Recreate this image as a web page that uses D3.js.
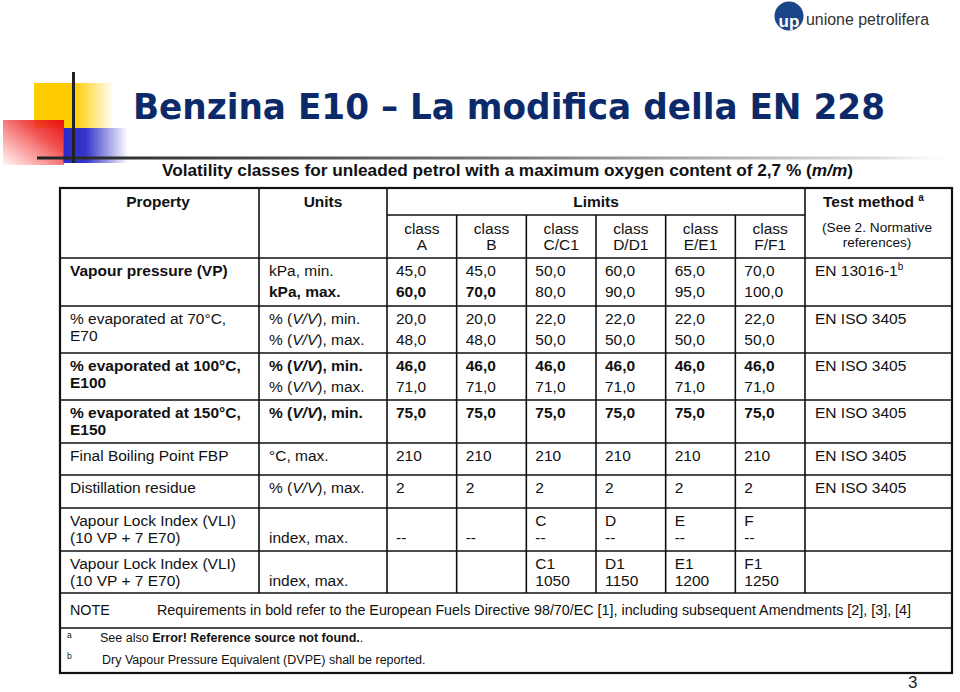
<!DOCTYPE html>
<html lang="en">
<head>
  <meta charset="UTF-8" />
  <title>Benzina E10 - EN 228</title>
  <style>
    body { margin: 0; background: #fff; }
    svg { display: block; font-family: "Liberation Sans", Arial, sans-serif; }
    .grid { stroke: #111; stroke-width: 1.6; fill: none; }
    .cell { fill: #111; font-size: 15.5px; }
    .bold { font-weight: bold; }
  </style>
</head>
<body>
  <svg width="960" height="692"></svg>

  <script src="https://d3js.org/d3.v7.min.js"></script>
  <script>
    // ---- data ----
    const classes = ["A", "B", "C/C1", "D/D1", "E/E1", "F/F1"];
    const vpMin = [45, 45, 50, 60, 65, 70];
    const vpMax = [60, 70, 80, 90, 95, 100];
    const e70Min = [20, 20, 22, 22, 22, 22];
    const e70Max = [48, 48, 50, 50, 50, 50];
    const e100Min = [46, 46, 46, 46, 46, 46];
    const e100Max = [71, 71, 71, 71, 71, 71];
    const e150Min = [75, 75, 75, 75, 75, 75];
    const fbpMax = [210, 210, 210, 210, 210, 210];
    const residueMax = [2, 2, 2, 2, 2, 2];
    const vliClass = ["", "", "C", "D", "E", "F"];
    const vliClass1 = ["", "", "C1", "D1", "E1", "F1"];
    const vli1Max = [null, null, 1050, 1150, 1200, 1250];

    const dec = v => d3.format(".1f")(v).replace(".", ",");

    const svg = d3.select("svg");
    const defs = svg.append("defs");

    // ---- slide decoration ----
    function grad(id, x1, y1, x2, y2, stops) {
      const gr = defs.append("linearGradient").attr("id", id)
        .attr("x1", x1).attr("y1", y1).attr("x2", x2).attr("y2", y2);
      stops.forEach(s => gr.append("stop").attr("offset", s[0]).attr("stop-color", s[1]).attr("stop-opacity", s[2]));
    }
    grad("gYellow", 0, 0, 1, 0, [[0, "#ffcc00", 1], [0.5, "#ffcc00", 1], [1, "#ffcc00", 0]]);
    grad("gBlue", 0, 0, 1, 0, [[0, "#2b2bc8", 1], [0.35, "#3535cc", 1], [1, "#3535cc", 0]]);
    grad("gRed", 1, 0, 0, 1, [[0, "#e81010", 1], [0.35, "#ee3030", 0.85], [1, "#ff4040", 0.05]]);
    grad("gLine", 0, 0, 1, 0, [[0, "#222", 1], [0.5, "#777", 1], [0.92, "#ddd", 1], [1, "#fff", 0]]);

    svg.append("rect").attr("x", 34).attr("y", 83).attr("width", 80).attr("height", 45).attr("fill", "url(#gYellow)");
    svg.append("rect").attr("x", 63).attr("y", 128).attr("width", 65).attr("height", 35).attr("fill", "url(#gBlue)");
    svg.append("rect").attr("x", 3).attr("y", 120).attr("width", 61).attr("height", 45).attr("fill", "url(#gRed)");
    svg.append("rect").attr("x", 37).attr("y", 156.5).attr("width", 923).attr("height", 3).attr("fill", "url(#gLine)");
    svg.append("rect").attr("x", 72).attr("y", 72).attr("width", 3).attr("height", 91).attr("fill", "#222");

    svg.append("text")
      .attr("x", 133).attr("y", 119)
      .attr("textLength", 752).attr("lengthAdjust", "spacingAndGlyphs")
      .style("font-family", "'DejaVu Sans', sans-serif")
      .style("font-weight", "bold").style("font-size", "36px")
      .attr("fill", "#0c2a6a")
      .text("Benzina E10 \u2013 La modifica della EN 228");

    // logo
    svg.append("circle").attr("cx", 789).attr("cy", 16).attr("r", 14.5).attr("fill", "#1a4688");
    svg.append("text").attr("x", 789).attr("y", 27).attr("text-anchor", "middle")
      .style("font-size", "17px").style("font-weight", "bold").attr("fill", "#fff").text("up");
    svg.append("text").attr("x", 806).attr("y", 25)
      .attr("textLength", 123).attr("lengthAdjust", "spacingAndGlyphs")
      .style("font-size", "16px").attr("fill", "#333").text("unione petrolifera");

    svg.append("text").attr("x", 908).attr("y", 688)
      .style("font-size", "17px").attr("fill", "#222").text("3");

    // subtitle
    const sub = svg.append("text").attr("x", 162).attr("y", 176)
      .attr("textLength", 691).attr("lengthAdjust", "spacingAndGlyphs")
      .attr("class", "cell bold").style("font-size", "16.5px");
    sub.append("tspan").text("Volatility classes for unleaded petrol with a maximum oxygen content of 2,7 % (");
    sub.append("tspan").style("font-style", "italic").text("m/m");
    sub.append("tspan").text(")");

    // ---- table layout ----
    const tLeft = 60, tRight = 952, tTop = 188;
    const colProp = 259, colUnits = 387, colTest = 805;
    const x = d3.scaleBand().domain(classes).range([colUnits, colTest]);
    const rowEdges = [258, 306, 353, 400, 443, 475, 508, 551, 593];
    const noteBottom = 628, tBottom = 673;

    const g = svg.append("g");

    // text helper: pieces -> tspans, [text, style]
    function put(xp, yp, pieces, bold, size) {
      const t = g.append("text").attr("class", "cell" + (bold ? " bold" : ""))
        .attr("x", xp).attr("y", yp);
      if (size) t.style("font-size", size + "px");
      (typeof pieces === "string" ? [[pieces]] : pieces).forEach(p => {
        const s = t.append("tspan").text(p[0]);
        if (p[1] === "i") s.style("font-style", "italic");
        if (p[1] === "b") s.style("font-weight", "bold");
        if (p[1] === "sup") s.style("font-size", "10px").attr("dy", -6);
      });
      return t;
    }

    const vv = (tail) => [["% ("], ["V/V", "i"], ["), " + tail]];

    const rows = [
      { prop: ["Vapour pressure (VP)"], propBold: true,
        units: [[["kPa, min."]], [["kPa, max."]]], unitsBold: [false, true],
        vals: [vpMin.map(dec), vpMax.map(dec)], valBold: [() => false, i => i < 2],
        method: [["EN 13016-1"], ["b", "sup"]] },
      { prop: ["% evaporated at 70\u00b0C,", "E70"], propBold: false,
        units: [vv("min."), vv("max.")], unitsBold: [false, false],
        vals: [e70Min.map(dec), e70Max.map(dec)], valBold: [() => false, () => false],
        method: "EN ISO 3405" },
      { prop: ["% evaporated at 100\u00b0C,", "E100"], propBold: true,
        units: [vv("min."), vv("max.")], unitsBold: [true, false],
        vals: [e100Min.map(dec), e100Max.map(dec)], valBold: [() => true, () => false],
        method: "EN ISO 3405" },
      { prop: ["% evaporated at 150\u00b0C,", "E150"], propBold: true,
        units: [vv("min.")], unitsBold: [true],
        vals: [e150Min.map(dec)], valBold: [() => true],
        method: "EN ISO 3405" },
      { prop: ["Final Boiling Point FBP"], propBold: false,
        units: [[["\u00b0C, max."]]], unitsBold: [false],
        vals: [fbpMax.map(String)], valBold: [() => false],
        method: "EN ISO 3405" },
      { prop: ["Distillation residue"], propBold: false,
        units: [vv("max.")], unitsBold: [false],
        vals: [residueMax.map(String)], valBold: [() => false],
        method: "EN ISO 3405" },
      { prop: ["Vapour Lock Index (VLI)", "(10 VP + 7 E70)"], propBold: false,
        units: [null, [["index, max."]]], unitsBold: [false, false], vli: true,
        vals: [vliClass, vliClass.map(() => "--")], valBold: [() => false, () => false],
        method: "" },
      { prop: ["Vapour Lock Index (VLI)", "(10 VP + 7 E70)"], propBold: false,
        units: [null, [["index, max."]]], unitsBold: [false, false], vli: true,
        vals: [vliClass1, vli1Max.map(v => v == null ? "" : String(v))], valBold: [() => false, () => false],
        method: "" }
    ];

    rows.forEach((r, ri) => {
      const y0 = rowEdges[ri];
      const base = y0 + 18;
      const propGap = 17;
      const valGap = r.vli ? 16.5 : 21;
      r.prop.forEach((line, li) => put(70, base + li * propGap, line, r.propBold));
      r.units.forEach((u, li) => {
        if (!u) return;
        put(269, base + li * valGap, u, r.unitsBold[li]);
      });
      r.vals.forEach((vals, li) => {
        vals.forEach((v, ci) => {
          if (!v) return;
          put(x(classes[ci]) + 9, base + li * valGap, v, r.valBold[li](ci));
        });
      });
      if (r.method) put(815, base, r.method, false);
    });

    // ---- header ----
    put(158, 207, "Property", true).attr("text-anchor", "middle");
    put(323, 207, "Units", true).attr("text-anchor", "middle");
    put((colUnits + colTest) / 2, 207, "Limits", true).attr("text-anchor", "middle");
    put(823, 207, [["Test method "], ["a", "sup"]], true);
    put(877, 232, "(See 2. Normative", false, 13.5)
      .attr("textLength", 110).attr("lengthAdjust", "spacingAndGlyphs").attr("text-anchor", "middle");
    put(877, 247, "references)", false, 13.5).attr("text-anchor", "middle");
    classes.forEach(c => {
      const cx = x(c) + x.bandwidth() / 2;
      put(cx, 234, "class").attr("text-anchor", "middle");
      put(cx, 250, c).attr("text-anchor", "middle");
    });

    // note + footnotes
    put(70, 615, "NOTE", false, 14.3);
    put(157, 615, "Requirements in bold refer to the European Fuels Directive 98/70/EC [1], including subsequent Amendments [2], [3], [4]", false, 14.3)
      .attr("textLength", 754).attr("lengthAdjust", "spacingAndGlyphs");
    put(67, 638, "a", false, 8.5);
    put(100, 642, [["See also "], ["Error! Reference source not found.", "b"], ["."]], false, 12.5);
    put(67, 659, "b", false, 8.5);
    put(102, 664, "Dry Vapour Pressure Equivalent (DVPE) shall be reported.", false, 12.5);

    // ---- grid lines ----
    const lines = [];
    lines.push([colUnits, 215, colTest, 215]);
    rowEdges.forEach(yv => lines.push([tLeft, yv, tRight, yv]));
    lines.push([tLeft, noteBottom, tRight, noteBottom]);
    [colProp, colUnits, colTest].forEach(xv => lines.push([xv, tTop, xv, rowEdges[rowEdges.length - 1]]));
    classes.slice(1).forEach(c => lines.push([x(c), 215, x(c), rowEdges[rowEdges.length - 1]]));

    g.selectAll("line.grid").data(lines).enter().append("line")
      .attr("class", "grid")
      .attr("x1", d => d[0]).attr("y1", d => d[1])
      .attr("x2", d => d[2]).attr("y2", d => d[3]);

    g.append("rect").attr("class", "grid")
      .attr("x", tLeft).attr("y", tTop)
      .attr("width", tRight - tLeft).attr("height", tBottom - tTop)
      .style("stroke-width", 2.2);
  </script>
</body>
</html>
